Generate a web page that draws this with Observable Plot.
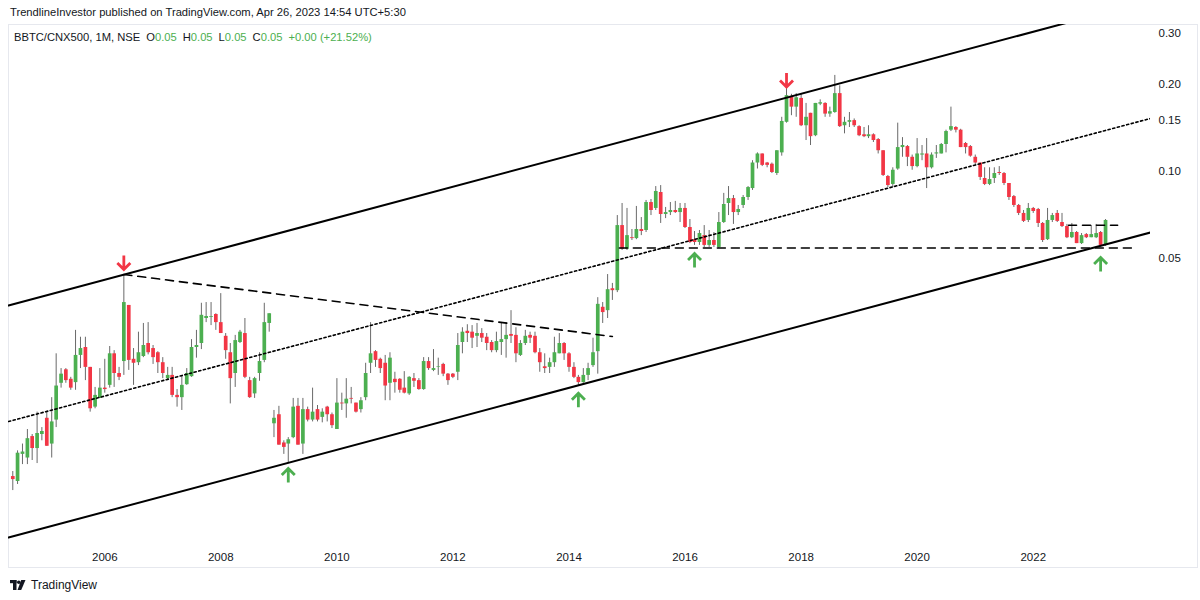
<!DOCTYPE html>
<html>
<head>
<meta charset="utf-8">
<script src="https://cdn.jsdelivr.net/npm/d3@7"></script>
<script src="https://cdn.jsdelivr.net/npm/@observablehq/plot@0.6"></script>
<style>
  html, body { margin: 0; padding: 0; background: #ffffff; }
  body { font-family: "Liberation Sans", Arial, sans-serif; }
  #wrap { position: relative; width: 1200px; height: 600px; overflow: hidden; background: #fff; }
  #pub { position: absolute; left: 10px; top: 6px; font-size: 11.2px; color: #131722; white-space: nowrap; }
  #frame { position: absolute; left: 8px; top: 24px; width: 1190px; height: 544px; border: 1px solid #e6e8ee; box-sizing: border-box; }
  #chart { position: absolute; left: 0; top: 24px; }
  #legend { position: absolute; left: 14px; top: 31px; font-size: 11.2px; color: #131722; white-space: nowrap; }
  #legend .v { color: #4caf50; }
  #legend span.g { margin-left: 6px; }
  #foot { position: absolute; left: 10px; top: 577px; height: 16px; display: flex; align-items: center; font-size: 12px; color: #131722; }
  #foot svg { margin-right: 5px; }
</style>
</head>
<body>
<div id="wrap">
  <div id="pub">TrendlineInvestor published on TradingView.com, Apr 26, 2023 14:54 UTC+5:30</div>
  <div id="frame"></div>
  <div id="chart"></div>
  <div id="legend">BBTC/CNX500, 1M, NSE<span class="g">O<span class="v">0.05</span></span><span class="g">H<span class="v">0.05</span></span><span class="g">L<span class="v">0.05</span></span><span class="g">C<span class="v">0.05</span></span><span class="g v">+0.00 (+21.52%)</span></div>
  <div id="foot"><svg width="16" height="11" viewBox="0 0 16 11"><rect x="0" y="0" width="6.5" height="3.2" fill="#131722"/><rect x="3" y="0" width="3.5" height="10" fill="#131722"/><circle cx="8.8" cy="2.2" r="1.8" fill="#131722"/><polygon points="11.2,0 15.5,0 11.2,10 7.5,10" fill="#131722"/></svg>TradingView</div>
</div>
<script>
// ---- categories: monthly bars June 2004 .. April 2023 ----
const firstMonth = "2004-06-01";
const lastMonth = "2023-04-01";

// ---- series values (BBTC/CNX500 ratio, monthly OHLC) ----
const open = [
.00880,.00846,.0105,.0102,.0121,.0110,.0123,.0140,.0114,.0138,
.0185,.0206,.0191,.0186,.0231,.0246,.0210,.0153,.0164,.0178,
.0182,.0234,.0200,.0220,.0344,.0224,.0218,.0229,.0254,.0244,
.0236,.0218,.0192,.0197,.0168,.0165,.0183,.0195,.0246,.0254,
.0310,.0313,.0320,.0300,.0269,.0236,.0200,.0256,.0275,.0189,
.0170,.0200,.0222,.0298,.0134,.0144,.0115,.0114,.0120,.0154,
.0114,.0150,.0138,.0150,.0141,.0153,.0144,.0128,.0158,.0157,
.0164,.0158,.0150,.0165,.0217,.0238,.0224,.0217,.0185,.0191,
.0191,.0178,.0170,.0192,.0189,.0176,.0220,.0205,.0210,.0215,
.0199,.0199,.0202,.0256,.0280,.0278,.0269,.0275,.0267,.0256,
.0240,.0256,.0262,.0273,.0271,.0231,.0254,.0271,.0269,.0236,
.0211,.0210,.0218,.0234,.0254,.0234,.0210,.0194,.0186,.0197,
.0213,.0238,.0339,.0330,.0393,.0387,.0650,.0538,.0590,.0586,
.0630,.0625,.0781,.0745,.0846,.0710,.0721,.0733,.0721,.0745,
.0640,.0581,.0568,.0600,.0555,.0577,.0546,.0666,.0775,.0806,
.0721,.0763,.0813,.0873,.107,.115,.107,.106,.0984,.116,
.148,.182,.167,.179,.144,.159,.133,.171,.172,.158,
.160,.186,.144,.148,.150,.143,.134,.132,.134,.129,
.118,.0961,.0902,.102,.121,.122,.112,.104,.114,.115,
.103,.115,.115,.124,.139,.142,.139,.125,.122,.112,
.107,.0946,.0902,.0946,.0992,.0984,.0909,.0819,.0763,.0716,
.0677,.0745,.0739,.0661,.0581,.0677,.0716,.0666,.0645,.0590,
.0615,.0563,.0605,.0590,.0590,.0615,.0555
];
const high = [
.00916,.0108,.0114,.0128,.0123,.0147,.0130,.0147,.0165,.0234,
.0208,.0208,.0194,.0282,.0267,.0267,.0210,.0179,.0208,.0224,
.0248,.0240,.0210,.0440,.0344,.0244,.0278,.0298,.0300,.0250,
.0238,.0227,.0210,.0210,.0176,.0197,.0208,.0262,.0282,.0350,
.0352,.0352,.0322,.0378,.0275,.0254,.0271,.0282,.0310,.0194,
.0194,.0236,.0350,.0322,.0149,.0154,.0117,.0120,.0164,.0164,
.0164,.0153,.0178,.0155,.0151,.0154,.0146,.0192,.0171,.0192,
.0179,.0158,.0165,.0217,.0300,.0240,.0226,.0231,.0236,.0202,
.0192,.0203,.0195,.0200,.0192,.0227,.0227,.0242,.0226,.0217,
.0200,.0200,.0275,.0288,.0295,.0293,.0298,.0286,.0275,.0260,
.0278,.0300,.0300,.0330,.0288,.0260,.0282,.0278,.0278,.0244,
.0234,.0226,.0267,.0275,.0256,.0236,.0218,.0197,.0208,.0217,
.0265,.0366,.0352,.0440,.0410,.0704,.0775,.0745,.0630,.0757,
.0693,.0794,.0800,.0887,.0894,.0751,.0781,.0788,.0775,.0775,
.0682,.0620,.0625,.0650,.0625,.0615,.0721,.0840,.0887,.0826,
.0763,.0826,.0887,.109,.116,.115,.1075,.107,.118,.154,
.194,.185,.186,.186,.172,.159,.172,.177,.173,.167,
.215,.198,.154,.160,.152,.144,.142,.144,.135,.130,
.118,.0969,.103,.147,.131,.123,.114,.130,.123,.130,
.116,.123,.125,.139,.167,.143,.140,.126,.123,.114,
.107,.103,.103,.103,.104,.0992,.0909,.0826,.0769,.0733,
.0775,.0751,.0745,.0666,.0745,.0716,.0733,.0716,.0656,.0661,
.0620,.0610,.0610,.0650,.0656,.0620,.0682
];
const low = [
.00787,.00826,.00968,.00968,.0100,.00976,.0117,.0112,.0102,.0130,
.0178,.0185,.0175,.0175,.0208,.0189,.0147,.0151,.0164,.0171,
.0178,.0179,.0189,.0197,.0205,.0182,.0213,.0227,.0232,.0215,
.0200,.0192,.0189,.0165,.0153,.0149,.0182,.0194,.0226,.0242,
.0300,.0293,.0282,.0275,.0224,.0157,.0179,.0254,.0192,.0164,
.0164,.0188,.0218,.0278,.0120,.0113,.0105,.00976,.0119,.0113,
.0105,.0136,.0136,.0136,.0135,.0136,.0129,.0128,.0149,.0140,
.0157,.0146,.0146,.0161,.0200,.0210,.0200,.0161,.0161,.0171,
.0171,.0170,.0168,.0179,.0175,.0175,.0205,.0203,.0197,.0195,
.0182,.0192,.0189,.0234,.0256,.0244,.0246,.0256,.0240,.0236,
.0236,.0231,.0226,.0254,.0218,.0229,.0250,.0254,.0234,.0202,
.0200,.0200,.0210,.0234,.0222,.0202,.0192,.0182,.0185,.0189,
.0210,.0199,.0298,.0310,.0358,.0381,.0533,.0533,.0577,.0581,
.0600,.0615,.0704,.0733,.0661,.0687,.0704,.0716,.0666,.0635,
.0563,.0555,.0555,.0546,.0546,.0546,.0542,.0661,.0704,.0656,
.0704,.0745,.0794,.0860,.102,.104,.103,.0984,.0969,.113,
.147,.156,.154,.143,.128,.123,.132,.169,.154,.154,
.159,.142,.135,.142,.142,.132,.131,.130,.126,.115,
.0961,.0880,.0880,.101,.112,.104,.101,.103,.109,.0873,
.102,.111,.115,.116,.1375,.136,.121,.115,.112,.105,
.0931,.0894,.0894,.0909,.0969,.0894,.0794,.0751,.0704,.0666,
.0666,.0716,.0640,.0568,.0577,.0666,.0666,.0640,.0586,.0586,
.0563,.0559,.0586,.0590,.0586,.0551,.0551
];
const close = [
.00859,.0106,.0107,.0119,.0110,.0124,.0126,.0112,.0136,.0181,
.0199,.0189,.0178,.0231,.0244,.0210,.0151,.0168,.0178,.0176,
.0234,.0200,.0194,.0352,.0222,.0217,.0236,.0250,.0236,.0227,
.0218,.0200,.0197,.0168,.0165,.0182,.0200,.0246,.0250,.0318,
.0315,.0315,.0300,.0275,.0240,.0192,.0260,.0278,.0194,.0165,
.0192,.0220,.0300,.0322,.0140,.0113,.0111,.0118,.0153,.0113,
.0150,.0138,.0147,.0138,.0147,.0144,.0132,.0158,.0157,.0163,
.0163,.0147,.0161,.0200,.0234,.0222,.0208,.0181,.0226,.0186,
.0175,.0171,.0194,.0188,.0176,.0220,.0208,.0208,.0211,.0199,
.0189,.0194,.0250,.0278,.0275,.0265,.0275,.0265,.0254,.0240,
.0258,.0262,.0271,.0269,.0234,.0254,.0269,.0265,.0236,.0218,
.0208,.0218,.0236,.0254,.0234,.0210,.0194,.0186,.0197,.0208,
.0236,.0347,.0325,.0390,.0387,.0650,.0538,.0600,.0586,.0630,
.0620,.0781,.0733,.0853,.0710,.0721,.0733,.0721,.0745,.0640,
.0568,.0568,.0610,.0555,.0577,.0555,.0666,.0769,.0806,.0721,
.0739,.0813,.0880,.107,.115,.105,.105,.0992,.118,.149,
.183,.167,.180,.144,.154,.132,.172,.173,.158,.161,
.186,.143,.148,.150,.144,.133,.132,.134,.128,.118,
.0969,.0894,.101,.121,.123,.112,.104,.115,.115,.103,
.114,.116,.124,.1375,.143,.139,.121,.121,.113,.107,
.0954,.0902,.0938,.0984,.0984,.0909,.0813,.0763,.0716,.0672,
.0745,.0727,.0661,.0577,.0677,.0704,.0672,.0645,.0590,.0615,
.0563,.0600,.0590,.0605,.0610,.0555,.0677
];

// ---- tick labels ----
const yearTicks = ["2006","2008","2010","2012","2014","2016","2018","2020","2022"];
const priceTicks = [0.05, 0.10, 0.15, 0.20, 0.30];

// ---- drawn trend lines (date, value) ----
const upperChannel = [{date: "2004-05-05", value: 0.0344}, {date: "2024-01-08", value: 0.3906}];
const lowerChannel = [{date: "2004-05-05", value: 0.005413}, {date: "2024-01-08", value: 0.0615}];
const midChannel   = [{date: "2004-05-05", value: 0.01364}, {date: "2024-01-08", value: 0.1525}];
const fallingDashed = [{date: "2006-05-01", value: 0.0440}, {date: "2014-10-01", value: 0.02686}];
const supportDashed = [{date: "2014-11-14", value: 0.05436}, {date: "2023-09-11", value: 0.05436}];
const boxTopDashed  = [{date: "2022-08-11", value: 0.0652}, {date: "2023-06-16", value: 0.0652}];

// ---- arrow markers (tip position) ----
const downArrows = [{date: "2006-05-01", value: 0.0458}, {date: "2017-10-01", value: 0.196}];
const upArrows = [
  {date: "2009-03-01", value: 0.00938},
  {date: "2014-03-01", value: 0.0171},
  {date: "2016-03-01", value: 0.0520},
  {date: "2023-03-01", value: 0.0504}
];

// ---- build tables ----
const parse = d3.utcParse("%Y-%m-%d");
const months = d3.utcMonth.range(parse(firstMonth), d3.utcMonth.offset(parse(lastMonth), 1));
const candles = months.map((d, i) => ({date: d, open: open[i], high: high[i], low: low[i], close: close[i]}));
const toPts = arr => arr.map(p => ({date: parse(p.date), value: p.value}));

const UP = "#4caf50", DOWN = "#f23645";

// chevron arrow: shaft plus a wide head
const chevron = {
  draw(context, l) {
    const w = 6.5;
    context.moveTo(0, 0);
    context.lineTo(0, -l + 1);
    context.moveTo(-w, -l + w);
    context.lineTo(0, -l);
    context.lineTo(w, -l + w);
  }
};

const chart = Plot.plot({
  width: 1200,
  height: 556,
  marginTop: 0,
  marginBottom: 40,
  marginLeft: 8,
  marginRight: 50,
  style: {fontFamily: "'Liberation Sans', Arial, sans-serif", fontSize: "11.5px", color: "#131722", background: "transparent", overflow: "visible"},
  x: {type: "utc", domain: [parse("2004-05-05"), parse("2024-01-09")]},
  y: {type: "log", domain: [0.005287, 0.3226]},
  marks: [
    Plot.axisX({ticks: yearTicks.map(y => parse(y + "-01-01")), tickFormat: d3.utcFormat("%Y"), tickSize: 0, tickPadding: 12, label: null}),
    Plot.axisY({anchor: "right", ticks: priceTicks, tickFormat: d3.format(".2f"), tickSize: 0, tickPadding: 8, label: null}),
    // wicks
    Plot.ruleX(candles, {x: "date", y1: "low", y2: "high", stroke: "#6a6a6a", strokeWidth: 1}),
    // bodies
    Plot.ruleX(candles, {x: "date", y1: "open", y2: "close", stroke: d => d.close >= d.open ? UP : DOWN, strokeWidth: 3.7, strokeLinecap: "butt"}),
    // channel
    Plot.line(toPts(upperChannel), {x: "date", y: "value", stroke: "#000", strokeWidth: 2, clip: true}),
    Plot.line(toPts(lowerChannel), {x: "date", y: "value", stroke: "#000", strokeWidth: 2, clip: true}),
    Plot.line(toPts(midChannel), {x: "date", y: "value", stroke: "#000", strokeWidth: 1.6, strokeDasharray: "2.2,2.6", clip: true}),
    Plot.line(toPts(fallingDashed), {x: "date", y: "value", stroke: "#000", strokeWidth: 1.6, strokeDasharray: "8,6", clip: true}),
    Plot.line(toPts(supportDashed), {x: "date", y: "value", stroke: "#000", strokeWidth: 1.6, strokeDasharray: "8,6", clip: true}),
    Plot.line(toPts(boxTopDashed), {x: "date", y: "value", stroke: "#000", strokeWidth: 1.6, strokeDasharray: "8,6", clip: true}),
    // arrows
    Plot.vector(toPts(downArrows), {x: "date", y: "value", length: 14, rotate: 180, anchor: "end", shape: chevron, stroke: DOWN, strokeWidth: 2.8, strokeLinejoin: "miter", strokeLinecap: "butt"}),
    Plot.vector(toPts(upArrows), {x: "date", y: "value", length: 14, rotate: 0, anchor: "end", shape: chevron, stroke: UP, strokeWidth: 2.8, strokeLinejoin: "miter", strokeLinecap: "butt"})
  ]
});
document.getElementById("chart").appendChild(chart);
</script>
</body>
</html>
